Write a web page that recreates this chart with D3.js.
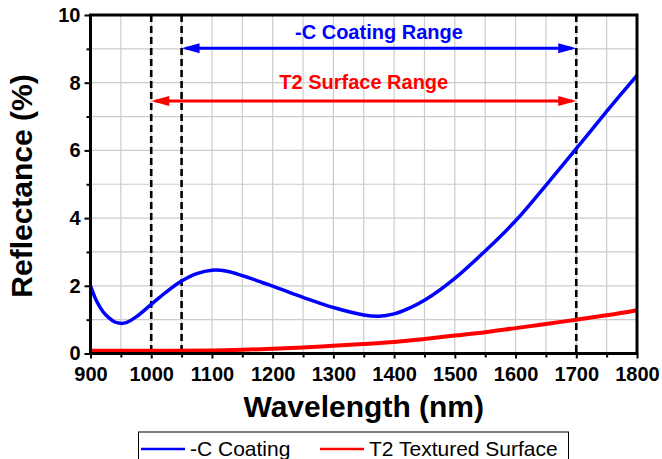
<!DOCTYPE html>
<html>
<head>
<meta charset="utf-8">
<script src="https://cdn.jsdelivr.net/npm/d3@7"></script>
<style>
  body { margin: 0; background: #fff; }
  svg { display: block; font-family: "Liberation Sans", Arial, sans-serif; }
</style>
</head>
<body>
<svg width="662" height="459"></svg>
<script>
const wavelength = [900, 910, 920, 930, 940, 950, 960, 975, 1000, 1025, 1050, 1075, 1100, 1125, 1150, 1200, 1250, 1300, 1350, 1375, 1400, 1425, 1450, 1500, 1550, 1600, 1650, 1700, 1750, 1800];
const coating = [2.0, 1.55, 1.25, 1.06, 0.93, 0.89, 0.92, 1.08, 1.45, 1.82, 2.14, 2.36, 2.46, 2.43, 2.3, 1.99, 1.66, 1.36, 1.14, 1.1, 1.17, 1.34, 1.57, 2.22, 3.03, 3.92, 4.97, 6.05, 7.15, 8.22];

const wavelengthT2 = [900, 1000, 1100, 1150, 1200, 1250, 1300, 1350, 1400, 1450, 1500, 1550, 1600, 1650, 1700, 1750, 1800];
const textured = [0.08, 0.08, 0.09, 0.11, 0.14, 0.18, 0.23, 0.28, 0.34, 0.43, 0.53, 0.63, 0.75, 0.87, 1.0, 1.13, 1.28];

const xTicks = [900, 1000, 1100, 1200, 1300, 1400, 1500, 1600, 1700, 1800];
const yTicks = [0, 2, 4, 6, 8, 10];
const rangeLines = [1000, 1050, 1700];
const ranges = [
  { label: "-C Coating Range", from: 1050, to: 1700, y: 9.02, ty: 9.29, color: "#0000ff" },
  { label: "T2 Surface Range", from: 1000, to: 1700, y: 7.46, ty: 7.8, color: "#ff0000" }
];
const legendItems = [
  { name: "-C Coating", color: "#0000ff" },
  { name: "T2 Textured Surface", color: "#ff0000" }
];

const svg = d3.select("svg");
const m = { left: 90.5, right: 637, top: 15, bottom: 353.5 };
const font = "'Liberation Sans', Arial, sans-serif";

const x = d3.scaleLinear().domain([900, 1800]).range([m.left, m.right]);
const y = d3.scaleLinear().domain([0, 10]).range([m.bottom, m.top]);

// grid
svg.append("g")
  .selectAll("line")
  .data(d3.range(950, 1800, 50))
  .enter().append("line")
  .attr("x1", d => x(d)).attr("x2", d => x(d))
  .attr("y1", m.top).attr("y2", m.bottom)
  .attr("stroke", "#cccccc").attr("stroke-width", 1.2);

svg.append("g")
  .selectAll("line")
  .data(d3.range(1, 10))
  .enter().append("line")
  .attr("x1", m.left).attr("x2", m.right)
  .attr("y1", d => y(d)).attr("y2", d => y(d))
  .attr("stroke", "#cccccc").attr("stroke-width", 1.2);

// dashed range markers
svg.append("g")
  .selectAll("line")
  .data(rangeLines)
  .enter().append("line")
  .attr("x1", d => x(d)).attr("x2", d => x(d))
  .attr("y1", m.top).attr("y2", m.bottom)
  .attr("stroke", "#000").attr("stroke-width", 2.6)
  .attr("stroke-dasharray", "7,4");

// curves
const line = d3.line().curve(d3.curveCatmullRom.alpha(0.5));

svg.append("path")
  .attr("d", line(wavelengthT2.map((w, i) => [x(w), y(textured[i])])))
  .attr("fill", "none").attr("stroke", "#ff0000").attr("stroke-width", 4);

svg.append("path")
  .attr("d", line(wavelength.map((w, i) => [x(w), y(coating[i])])))
  .attr("fill", "none").attr("stroke", "#0000ff").attr("stroke-width", 3.5);

// arrows
const head = 18, half = 5;
ranges.forEach(r => {
  const g = svg.append("g");
  const x0 = x(r.from), x1 = x(r.to), yy = y(r.y);
  g.append("line")
    .attr("x1", x0 + 4).attr("x2", x1 - 4)
    .attr("y1", yy).attr("y2", yy)
    .attr("stroke", r.color).attr("stroke-width", 3);
  g.append("path")
    .attr("d", `M${x0},${yy}L${x0 + head},${yy - half}L${x0 + head},${yy + half}Z`)
    .attr("fill", r.color);
  g.append("path")
    .attr("d", `M${x1},${yy}L${x1 - head},${yy - half}L${x1 - head},${yy + half}Z`)
    .attr("fill", r.color);
  g.append("text")
    .attr("x", (x0 + x1) / 2)
    .attr("y", y(r.ty))
    .attr("text-anchor", "middle")
    .attr("font-size", 20).attr("font-weight", "bold")
    .attr("fill", r.color)
    .text(r.label);
});

// axes
const xAxis = svg.append("g")
  .attr("transform", `translate(0,${m.bottom})`)
  .attr("font-family", font)
  .call(d3.axisBottom(x).tickValues(xTicks).tickFormat(d3.format("d")).tickSize(5).tickSizeOuter(0));
xAxis.selectAll("text").attr("font-size", 20).attr("font-weight", "bold").attr("dy", "0.95em").attr("fill", "#000");

svg.append("g")
  .attr("transform", `translate(0,${m.bottom})`)
  .call(d3.axisBottom(x).tickValues(d3.range(950, 1800, 100)).tickSize(4).tickFormat(""))
  .call(g => g.select(".domain").remove());

const yAxis = svg.append("g")
  .attr("transform", `translate(${m.left},0)`)
  .attr("font-family", font)
  .call(d3.axisLeft(y).tickValues(yTicks).tickSize(6).tickSizeOuter(0));
yAxis.selectAll("text").attr("font-size", 20).attr("font-weight", "bold").attr("x", -10).attr("fill", "#000");

svg.append("g")
  .attr("transform", `translate(${m.left},0)`)
  .call(d3.axisLeft(y).tickValues([1, 3, 5, 7, 9]).tickSize(4).tickFormat(""))
  .call(g => g.select(".domain").remove());

svg.selectAll(".tick line").attr("stroke", "#000").attr("stroke-width", 2);
svg.selectAll(".domain").remove();

// frame
svg.append("rect")
  .attr("x", m.left).attr("y", m.top)
  .attr("width", m.right - m.left).attr("height", m.bottom - m.top)
  .attr("fill", "none").attr("stroke", "#000").attr("stroke-width", 3);

// axis labels
svg.append("text")
  .attr("x", (m.left + m.right) / 2)
  .attr("y", 417)
  .attr("text-anchor", "middle")
  .attr("font-size", 30).attr("font-weight", "bold")
  .text("Wavelength (nm)");

svg.append("text")
  .attr("transform", "rotate(-90)")
  .attr("x", -186)
  .attr("y", 32)
  .attr("text-anchor", "middle")
  .attr("font-size", 30).attr("font-weight", "bold")
  .text("Reflectance (%)");

// legend
const legend = svg.append("g");
legend.append("rect")
  .attr("x", 138.5).attr("y", 432)
  .attr("width", 430).attr("height", 40)
  .attr("fill", "#fff").attr("stroke", "#000").attr("stroke-width", 1);

const legendX = [141, 320];
legendItems.forEach((d, i) => {
  legend.append("line")
    .attr("x1", legendX[i]).attr("x2", legendX[i] + 44)
    .attr("y1", 449).attr("y2", 449)
    .attr("stroke", d.color).attr("stroke-width", 2.5);
  legend.append("text")
    .attr("x", legendX[i] + 49).attr("y", 456)
    .attr("font-size", 21)
    .text(d.name);
});
</script>
</body>
</html>
